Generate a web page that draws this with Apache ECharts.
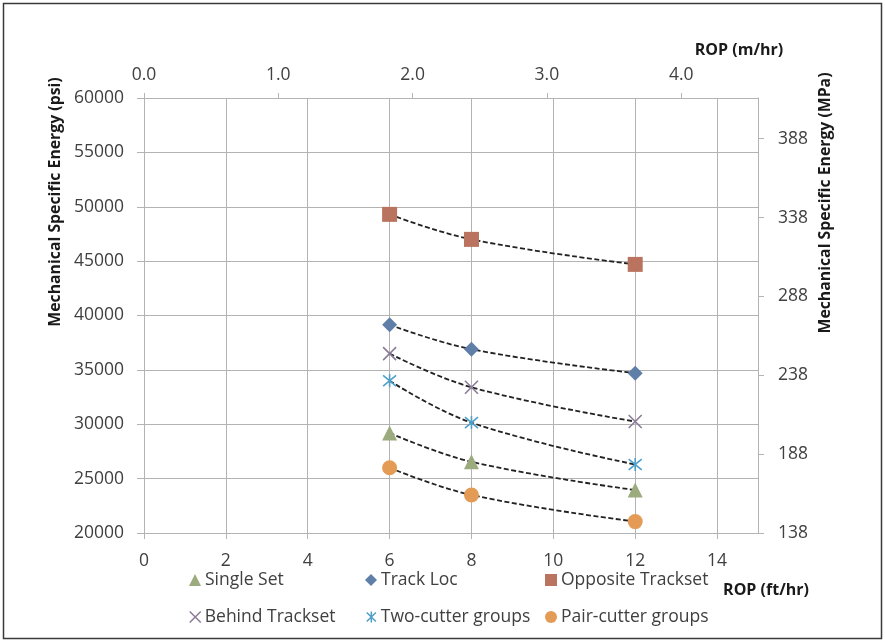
<!DOCTYPE html>
<html>
<head>
<meta charset="utf-8">
<script src="https://cdn.jsdelivr.net/npm/echarts@6/dist/echarts.min.js"></script>
<style>
  html, body { margin: 0; padding: 0; background: #ffffff; }
  #chart { width: 885px; height: 642px; }
</style>
</head>
<body>
<div id="chart"></div>
<script>
// ROP test points (ft/hr) and mechanical specific energy (psi) per cutter layout
const ropFtHr = [6, 8, 12];
const singleSet = [29200, 26550, 23950];
const trackLoc = [39150, 36900, 34700];
const oppositeTrackset = [49300, 47000, 44700];
const behindTrackset = [36500, 33400, 30250];
const twoCutterGroups = [34000, 30150, 26300];
const pairCutterGroups = [26000, 23500, 21050];

// Unit conversions for the secondary axes
const FT_TO_M = 0.3048;
const PSI_TO_MPA = 0.00689476;

const X_MAX = 15;
const PSI_MIN = 20000;
const PSI_MAX = 60000;

const FONT = '"Open Sans", "Noto Sans", sans-serif';
const TXT = '#404040';
const GRID = '#b3b3b3';

const layouts = [
  { name: 'Single Set', values: singleSet, color: '#9bab7e', symbol: 'triangle', size: 15 },
  { name: 'Track Loc', values: trackLoc, color: '#5f7fa8', symbol: 'diamond', size: 15 },
  { name: 'Opposite Trackset', values: oppositeTrackset, color: '#b9735f', symbol: 'rect', size: 15 },
  { name: 'Behind Trackset', values: behindTrackset, color: '#8c7b98', symbol: 'path://M0,0L10,10M10,0L0,10', size: 13, stroke: true },
  { name: 'Two-cutter groups', values: twoCutterGroups, color: '#4f9fc9', symbol: 'path://M0,0L10,10M10,0L0,10M5,-1L5,11', size: 13, stroke: true },
  { name: 'Pair-cutter groups', values: pairCutterGroups, color: '#e49b55', symbol: 'circle', size: 15 }
];

const pairs = (vals) => ropFtHr.map((x, i) => [x, vals[i]]);

const series = [];
// dashed trend curves
layouts.forEach((l) => {
  series.push({
    name: l.name + ' trend',
    type: 'line',
    data: pairs(l.values),
    smooth: 0.4,
    showSymbol: false,
    symbol: 'none',
    silent: true,
    z: 3,
    lineStyle: { color: '#222222', width: 1.8, type: [5, 2.5] }
  });
});
// markers
layouts.forEach((l) => {
  series.push({
    name: l.name,
    type: 'scatter',
    data: pairs(l.values),
    symbol: l.symbol,
    symbolSize: l.size,
    z: 4,
    itemStyle: l.stroke
      ? { color: 'rgba(0,0,0,0)', borderColor: l.color, borderWidth: 1.6, opacity: 1 }
      : { color: l.color, opacity: 1 }
  });
});

const legendPos = [
  [189, 571], [365, 571], [545, 571],
  [189, 608], [366, 608], [545, 608]
];
const legends = layouts.map((l, i) => ({
  data: [l.name],
  left: legendPos[i][0],
  top: legendPos[i][1],
  padding: 0,
  itemWidth: l.stroke ? 11 : 12,
  itemHeight: l.stroke ? 11 : 12,
  selectedMode: false,
  textStyle: { fontFamily: FONT, fontSize: 17.5, color: TXT, padding: [0, 0, 0, -1] },
  itemStyle: l.stroke
    ? { color: 'rgba(0,0,0,0)', borderColor: l.color, borderWidth: 1.5 }
    : { color: l.color, borderWidth: 0 }
}));

const axisLine = { show: true, onZero: false, lineStyle: { color: GRID, width: 1 } };
const titleStyle = { fontFamily: FONT, fontWeight: 'bold', fill: '#1a1a1a', align: 'center', verticalAlign: 'middle' };

const chart = echarts.init(document.getElementById('chart'), null, { renderer: 'canvas' });
chart.setOption({
  animation: false,
  backgroundColor: '#ffffff',
  textStyle: { fontFamily: FONT },
  grid: { left: 144, right: 127, top: 98, bottom: 109 },
  legend: legends,
  xAxis: [
    {
      type: 'value',
      position: 'bottom',
      min: 0,
      max: X_MAX,
      interval: 2,
      axisLine: axisLine,
      axisTick: { show: true, inside: false, length: 6, lineStyle: { color: GRID } },
      axisLabel: { showMaxLabel: false, fontFamily: FONT, fontSize: 17.5, color: TXT, margin: 19 },
      splitLine: { show: true, lineStyle: { color: GRID, width: 1 } }
    },
    {
      type: 'value',
      position: 'top',
      min: 0,
      max: X_MAX * FT_TO_M,
      interval: 1,
      axisLine: axisLine,
      axisTick: { show: true, inside: false, length: 5, lineStyle: { color: GRID } },
      axisLabel: {
        showMaxLabel: false,
        formatter: (v) => v.toFixed(1),
        fontFamily: FONT, fontSize: 17.5, color: TXT, margin: 14
      },
      splitLine: { show: false }
    }
  ],
  yAxis: [
    {
      type: 'value',
      position: 'left',
      min: PSI_MIN,
      max: PSI_MAX,
      interval: 5000,
      axisLine: axisLine,
      axisTick: { show: true, inside: false, length: 7, lineStyle: { color: GRID } },
      axisLabel: { formatter: (v) => String(v), fontFamily: FONT, fontSize: 17.5, color: TXT, margin: 20 },
      splitLine: { show: true, lineStyle: { color: GRID, width: 1 } }
    },
    {
      type: 'value',
      position: 'right',
      min: PSI_MIN * PSI_TO_MPA,
      max: PSI_MAX * PSI_TO_MPA,
      interval: 50,
      axisLine: axisLine,
      axisTick: { show: true, inside: false, length: 6, lineStyle: { color: GRID } },
      axisLabel: {
        showMaxLabel: false,
        formatter: (v) => String(Math.round(v)),
        fontFamily: FONT, fontSize: 17.5, color: TXT, margin: 20
      },
      splitLine: { show: false }
    }
  ],
  series: series,
  graphic: [
    {
      type: 'rect',
      shape: { x: 3.5, y: 3.5, width: 878, height: 635 },
      style: { fill: 'none', stroke: '#3a3a3a', lineWidth: 1.5 },
      silent: true
    },
    {
      type: 'text',
      x: 55, y: 202,
      rotation: Math.PI / 2,
      style: Object.assign({ text: 'Mechanical Specific Energy (psi)', fontSize: 15.8 }, titleStyle)
    },
    {
      type: 'text',
      x: 825, y: 203,
      rotation: Math.PI / 2,
      style: Object.assign({ text: 'Mechanical Specific Energy (MPa)', fontSize: 15.8 }, titleStyle)
    },
    {
      type: 'text',
      x: 739, y: 50,
      style: Object.assign({ text: 'ROP (m/hr)', fontSize: 16 }, titleStyle)
    },
    {
      type: 'text',
      x: 766, y: 590,
      style: Object.assign({ text: 'ROP (ft/hr)', fontSize: 16 }, titleStyle)
    }
  ]
});
</script>
</body>
</html>
